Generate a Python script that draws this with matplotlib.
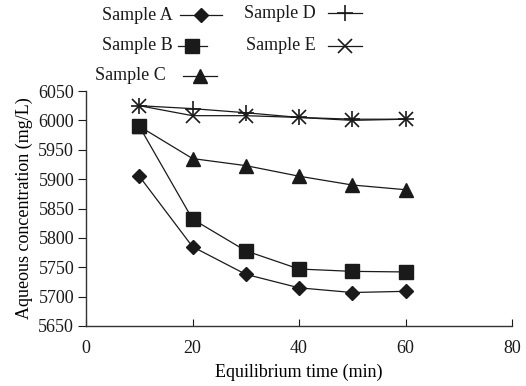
import matplotlib
matplotlib.use("Agg")
import matplotlib.pyplot as plt
from matplotlib.lines import Line2D

time_min = [10, 20, 30, 40, 50, 60]
sample_a = [5905, 5785, 5738, 5715, 5707, 5709]
sample_b = [5990, 5832, 5778, 5747, 5743, 5742]
sample_c = [5990, 5935, 5923, 5905, 5890, 5882]
sample_d = [6025, 6020, 6013, 6005, 6002, 6002]
sample_e = [6025, 6008, 6008, 6005, 6000, 6002]
labels = ["Sample A", "Sample B", "Sample C", "Sample D", "Sample E"]
x_ticks = [0, 20, 40, 60, 80]
y_ticks = [5650, 5700, 5750, 5800, 5850, 5900, 5950, 6000, 6050]

plt.rcParams['font.family'] = ['Liberation Serif', 'DejaVu Serif']
fs = 13

fig = plt.figure(figsize=(5.26, 3.86), dpi=100)
ax = fig.add_axes([86/526, 1-326/386, (512-86)/526, (326-91)/386])

styles = [
    dict(marker='D', ms=7, mfc='#1a1a1a', mec='#1a1a1a'),
    dict(marker='s', ms=10.5, mfc='#1a1a1a', mec='#1a1a1a'),
    dict(marker='^', ms=9.5, mfc='#1a1a1a', mec='#1a1a1a'),
    dict(marker='+', ms=12, mew=1.2, mec='#1a1a1a'),
    dict(marker='x', ms=10, mew=1.2, mec='#1a1a1a'),
]
series = [sample_a, sample_b, sample_c, sample_d, sample_e]
for ys, st in zip(series, styles):
    ax.plot(time_min, ys, color='#1a1a1a', lw=0.9, **st)

ax.set_xlim(0, 80)
ax.set_ylim(5650, 6050)
ax.set_xticks(x_ticks)
ax.set_yticks(y_ticks)
ax.spines['top'].set_visible(False)
ax.spines['right'].set_visible(False)
for s in ['left', 'bottom']:
    ax.spines[s].set_linewidth(1.0)
    ax.spines[s].set_color('#333333')
ax.tick_params(axis='x', direction='in', length=5, labelsize=fs, pad=10, colors='#1a1a1a')
ax.tick_params(axis='y', direction='out', length=5.5, labelsize=fs, pad=3, colors='#1a1a1a')
ax.set_xlabel("Equilibrium time (min)", fontsize=fs, labelpad=5)
ax.set_ylabel("Aqueous concentration (mg/L)", fontsize=fs, labelpad=4)

# legend drawn manually in figure pixel coordinates
W, H = 526, 386
def fx(x): return x / W
def fy(y): return 1 - y / H
entries = [
    (labels[0], 173, 15, 180, 222, 201),
    (labels[1], 173, 46, 178, 207, 192),
    (labels[2], 166, 76, 183, 217, 200),
    (labels[3], 316, 13, 328, 362, 345),
    (labels[4], 316, 46, 328, 362, 345),
]
for (lab, tx, ty, x0, x1, xm), st in zip(entries, styles):
    fig.text(fx(tx), fy(ty), lab, ha='right', va='center', fontsize=fs, color='#1a1a1a')
    fig.add_artist(Line2D([fx(x0), fx(x1)], [fy(ty), fy(ty)], color='#1a1a1a', lw=0.9,
                          transform=fig.transFigure))
    fig.add_artist(Line2D([fx(xm)], [fy(ty)], color='#1a1a1a', lw=0,
                          transform=fig.transFigure, **st))

fig.savefig("out.png", dpi=100)
